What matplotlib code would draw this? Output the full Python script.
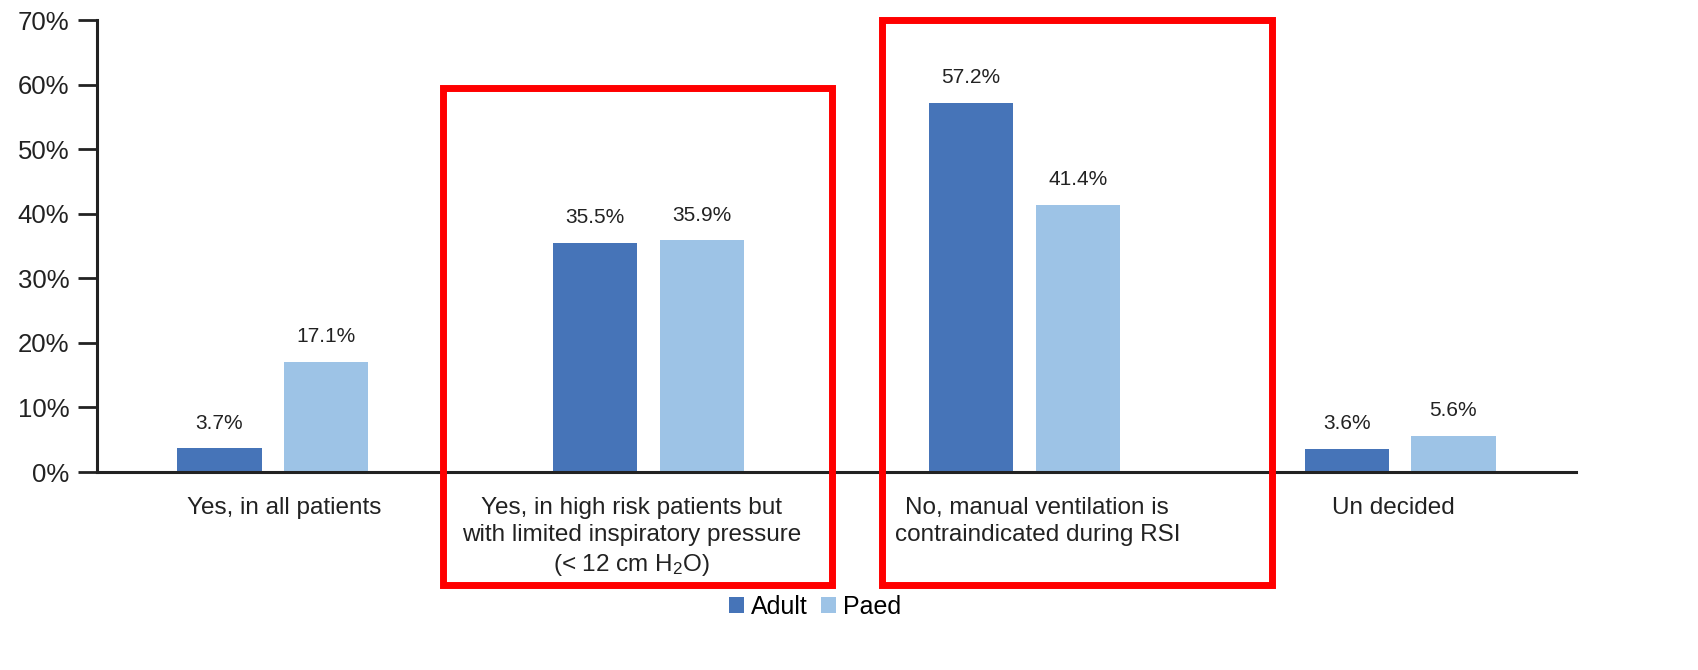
import numpy as np
import matplotlib
matplotlib.use('Agg')
import matplotlib.pyplot as plt
import matplotlib.transforms as mtransforms
from matplotlib.patches import Rectangle

categories = ['Yes, in all patients',
              'Yes, in high risk patients but\nwith limited inspiratory pressure\n(< 12 cm $\\mathregular{H_2O}$)',
              'No, manual ventilation is\ncontraindicated during RSI',
              'Un decided']
adult = [3.7, 35.5, 57.2, 3.6]
paed = [17.1, 35.9, 41.4, 5.6]
series = ['Adult', 'Paed']
yticks = [0, 10, 20, 30, 40, 50, 60, 70]

plt.rcParams['font.family'] = ['Liberation Sans', 'DejaVu Sans']

fig = plt.figure(figsize=(16.98, 6.7), dpi=100)
ax = fig.add_axes([0.0571, 0.2955, 0.8710, 0.6745])

x = np.arange(len(categories))
w = 0.224
off = 0.142
b1 = ax.bar(x - off, adult, w, color='#4674B8', label=series[0])
b2 = ax.bar(x + off, paed, w, color='#9DC3E6', label=series[1])

for bars, vals in ((b1, adult), (b2, paed)):
    for b, v in zip(bars, vals):
        ax.text(b.get_x() + b.get_width() / 2, v + 2.4, '%.1f%%' % v,
                ha='center', va='bottom', fontsize=15, color='#222222')

ax.set_xlim(-0.468, 3.468)
ax.set_ylim(0, 70)
ax.set_yticks(yticks)
ax.set_yticklabels(['%d%%' % t for t in yticks], fontsize=18.5, color='#222222')
ax.set_xticks(x)
ax.set_xticklabels(categories, fontsize=17.5, color='#222222', va='top',
                   linespacing=1.3)
ax.tick_params(axis='x', length=0, pad=18)
ax.tick_params(axis='y', length=14, width=2, color='#222222', pad=6)

# the labels in the original are not quite centred under the groups
shifts = [11, -17, 13, -7]
for lab, dx in zip(ax.get_xticklabels(), shifts):
    lab.set_transform(lab.get_transform() +
                      mtransforms.ScaledTranslation(dx / 100, 0, fig.dpi_scale_trans))

for s in ('top', 'right'):
    ax.spines[s].set_visible(False)
for s in ('left', 'bottom'):
    ax.spines[s].set_linewidth(2.2)
    ax.spines[s].set_color('#222222')

# red highlight boxes
for x0, x1, y0, y1 in ((0.452, 1.489, -17.5, 59.5), (1.620, 2.660, -17.5, 70)):
    ax.add_patch(Rectangle((x0, y0), x1 - x0, y1 - y0, fill=False,
                           edgecolor='#FF0000', linewidth=5, clip_on=False,
                           zorder=5))

fig.legend(loc='center', bbox_to_anchor=(0.48, 0.094), ncol=2, frameon=False,
           fontsize=18, handlelength=0.6, handleheight=0.6, handletextpad=0.3,
           columnspacing=0.5)

fig.savefig('out.png', dpi=100)
